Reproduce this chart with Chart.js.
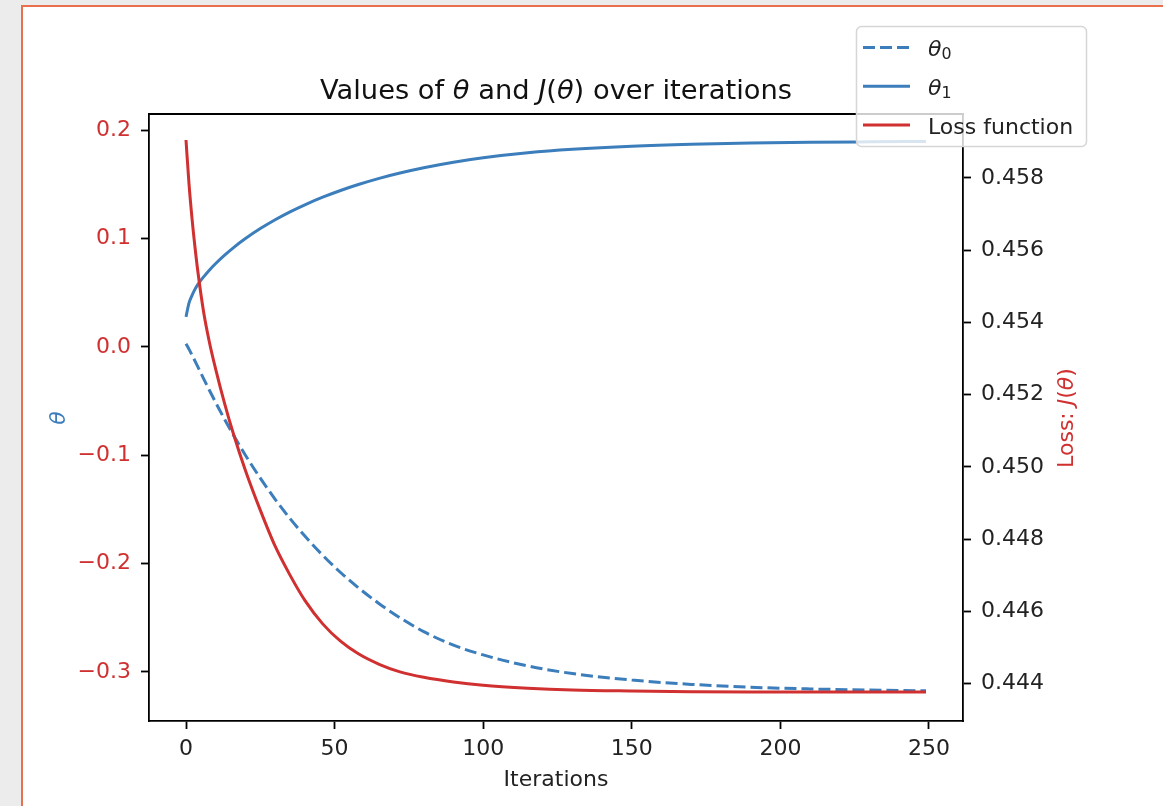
<!DOCTYPE html>
<html>
<head>
<meta charset="utf-8">
<title>Values of theta and J(theta) over iterations</title>
<script src="https://cdn.jsdelivr.net/npm/chart.js@4.4.0/dist/chart.umd.min.js"></script>
<style>
    html, body { margin: 0; padding: 0; background: #ececec; overflow: hidden; }
    #frame { position: absolute; left: 21px; top: 5px; width: 1300px; height: 1000px; background: #fff; border: 2px solid #e8704f; }
    #myChart { position: absolute; left: 0; top: 0; }
</style>
</head>
<body>
<div id="frame"></div>
<canvas id="myChart" width="1163" height="806"></canvas>
<script>
const iterations = [0, 1, 2, 3, 4, 6, 8, 10, 13, 16, 20, 25, 30, 35, 40, 46, 52, 58, 65, 72, 80, 90, 100, 115, 130, 150, 170, 190, 210, 230, 249];
const theta0 = [0.003, -0.002, -0.0073, -0.0128, -0.0184, -0.0296, -0.0406, -0.0513, -0.0668, -0.0815, -0.0999, -0.1211, -0.1406, -0.1584, -0.1746, -0.1923, -0.2082, -0.2223, -0.237, -0.25, -0.2628, -0.2753, -0.2843, -0.2945, -0.3015, -0.3075, -0.3115, -0.3141, -0.3157, -0.3167, -0.3174];
const theta1 = [0.0278, 0.0405, 0.0475, 0.0532, 0.0578, 0.065, 0.0714, 0.0771, 0.0848, 0.0918, 0.1001, 0.1093, 0.1175, 0.1248, 0.1313, 0.1383, 0.1445, 0.15, 0.1557, 0.1606, 0.1655, 0.1706, 0.1747, 0.1793, 0.1825, 0.1854, 0.1872, 0.1883, 0.189, 0.1894, 0.1897];
const loss = [0.45905, 0.45785, 0.4569, 0.4561, 0.4554, 0.45425, 0.4534, 0.4527, 0.45175, 0.4509, 0.4499, 0.4488, 0.4478, 0.447, 0.4463, 0.44565, 0.44517, 0.44482, 0.44453, 0.44432, 0.44417, 0.44404, 0.44395, 0.44387, 0.44382, 0.44379, 0.44377, 0.44376, 0.44376, 0.44376, 0.44376];

const xTicks = [0, 50, 100, 150, 200, 250];
const thetaTicks = [-0.3, -0.2, -0.1, 0.0, 0.1, 0.2];
const lossTicks = [0.444, 0.446, 0.448, 0.450, 0.452, 0.454, 0.456, 0.458];

const BLUE = "#3c7dbb";
const RED = "#d03030";
const FONT = "'DejaVu Sans'";

Chart.defaults.font.family = FONT;
Chart.defaults.font.size = 22;
Chart.defaults.color = "#222";

function fontFor(style, size) {
    if (style === "i") return "italic " + size + "px " + FONT;
    if (style === "s") return (size * 0.72) + "px " + FONT;
    return size + "px " + FONT;
}

function richWidth(ctx, parts, size) {
    let w = 0;
    parts.forEach(([t, s]) => { ctx.font = fontFor(s, size); w += ctx.measureText(t).width; });
    return w;
}

// draw text made of normal / italic / subscript pieces
function drawRich(ctx, parts, x, y, size, color, align) {
    let cx = align === "center" ? x - richWidth(ctx, parts, size) / 2 : x;
    ctx.fillStyle = color;
    ctx.textAlign = "left";
    ctx.textBaseline = "alphabetic";
    parts.forEach(([t, s]) => {
        ctx.font = fontFor(s, size);
        ctx.fillText(t, cx, s === "s" ? y + size * 0.13 : y);
        cx += ctx.measureText(t).width;
    });
}

function drawRotated(ctx, parts, x, y, size, color) {
    ctx.save();
    ctx.translate(x, y);
    ctx.rotate(-Math.PI / 2);
    drawRich(ctx, parts, 0, size * 0.36, size, color, "center");
    ctx.restore();
}

const legendItems = [
    { parts: [["θ", "i"], ["0", "s"]], color: BLUE, dash: [12, 5] },
    { parts: [["θ", "i"], ["1", "s"]], color: BLUE, dash: [] },
    { parts: [["Loss function", "n"]], color: RED, dash: [] }
];

const mplDecor = {
    id: "mplDecor",
    afterDraw(chart) {
        const ctx = chart.ctx;
        const a = chart.chartArea;

        // top spine
        ctx.save();
        ctx.strokeStyle = "#000";
        ctx.lineWidth = 1.8;
        ctx.beginPath();
        ctx.moveTo(a.left - 0.9, a.top);
        ctx.lineTo(a.right + 0.9, a.top);
        ctx.stroke();
        ctx.restore();

        // title and axis titles
        drawRich(ctx, [["Values of ", "n"], ["θ", "i"], [" and ", "n"], ["J", "i"], ["(", "n"], ["θ", "i"], [")", "n"], [" over iterations", "n"]],
            (a.left + a.right) / 2, 99, 27.3, "#111", "center");
        drawRich(ctx, [["Iterations", "n"]], (a.left + a.right) / 2, 786, 22, "#222", "center");
        drawRotated(ctx, [["θ", "i"]], 57, 418, 22, BLUE);
        drawRotated(ctx, [["Loss: ", "n"], ["J", "i"], ["(", "n"], ["θ", "i"], [")", "n"]], 1065, 418, 22, RED);

        // legend box
        ctx.save();
        ctx.beginPath();
        ctx.roundRect(856.5, 26.5, 230, 120, 5);
        ctx.fillStyle = "rgba(255,255,255,0.8)";
        ctx.fill();
        ctx.strokeStyle = "#d6d6d6";
        ctx.lineWidth = 1.5;
        ctx.stroke();
        legendItems.forEach((item, i) => {
            const y = 47.5 + i * 38.8;
            ctx.beginPath();
            ctx.setLineDash(item.dash);
            ctx.strokeStyle = item.color;
            ctx.lineWidth = 3;
            ctx.moveTo(863, y);
            ctx.lineTo(910, y);
            ctx.stroke();
            ctx.setLineDash([]);
            drawRich(ctx, item.parts, 928, y + 8.5, 22, "#222", "left");
        });
        ctx.restore();
    }
};

function series(values) {
    return iterations.map((x, i) => ({ x, y: values[i] }));
}

function tickSetter(list) {
    return axis => { axis.ticks = list.map(v => ({ value: v })); };
}

const axisStyle = {
    grid: { drawOnChartArea: false, drawTicks: true, tickLength: 8, tickColor: "#000", tickWidth: 1.8 },
    border: { display: true, color: "#000", width: 1.8 }
};

function createChart() {
    const myChart = document.getElementById("myChart").getContext("2d");
    return new Chart(myChart, {
        type: "line",
        data: {
            datasets: [
                {
                    label: "θ0",
                    data: series(theta0),
                    yAxisID: "yTheta",
                    borderColor: BLUE,
                    borderDash: [12, 5],
                    order: 2
                },
                {
                    label: "θ1",
                    data: series(theta1),
                    yAxisID: "yTheta",
                    borderColor: BLUE,
                    order: 1
                },
                {
                    label: "Loss function",
                    data: series(loss),
                    yAxisID: "yLoss",
                    borderColor: RED,
                    order: 0
                }
            ]
        },
        options: {
            responsive: false,
            animation: false,
            layout: { padding: { top: 114, left: 0, right: 0, bottom: 0 } },
            elements: {
                point: { radius: 0 },
                line: { borderWidth: 3, cubicInterpolationMode: "monotone", fill: false }
            },
            plugins: {
                legend: { display: false },
                title: { display: false },
                tooltip: { enabled: false }
            },
            scales: {
                x: {
                    type: "linear",
                    position: "bottom",
                    min: -12.45,
                    max: 261.45,
                    afterBuildTicks: tickSetter(xTicks),
                    afterFit: axis => { axis.height = 85; },
                    ticks: { autoSkip: false, maxRotation: 0, padding: 7, color: "#222", callback: v => String(v) },
                    ...axisStyle
                },
                yTheta: {
                    type: "linear",
                    position: "left",
                    min: -0.3453,
                    max: 0.2151,
                    afterBuildTicks: tickSetter(thetaTicks),
                    afterFit: axis => { axis.width = 149; },
                    ticks: { autoSkip: false, padding: 10, color: RED, callback: v => v.toFixed(1).replace("-", "\u2212") },
                    ...axisStyle
                },
                yLoss: {
                    type: "linear",
                    position: "right",
                    min: 0.44296,
                    max: 0.45977,
                    afterBuildTicks: tickSetter(lossTicks),
                    afterFit: axis => { axis.width = 200; },
                    ticks: { autoSkip: false, padding: 10, color: "#222", callback: v => v.toFixed(3) },
                    ...axisStyle
                }
            }
        },
        plugins: [mplDecor]
    });
}

let chartInit = createChart();
</script>
</body>
</html>
